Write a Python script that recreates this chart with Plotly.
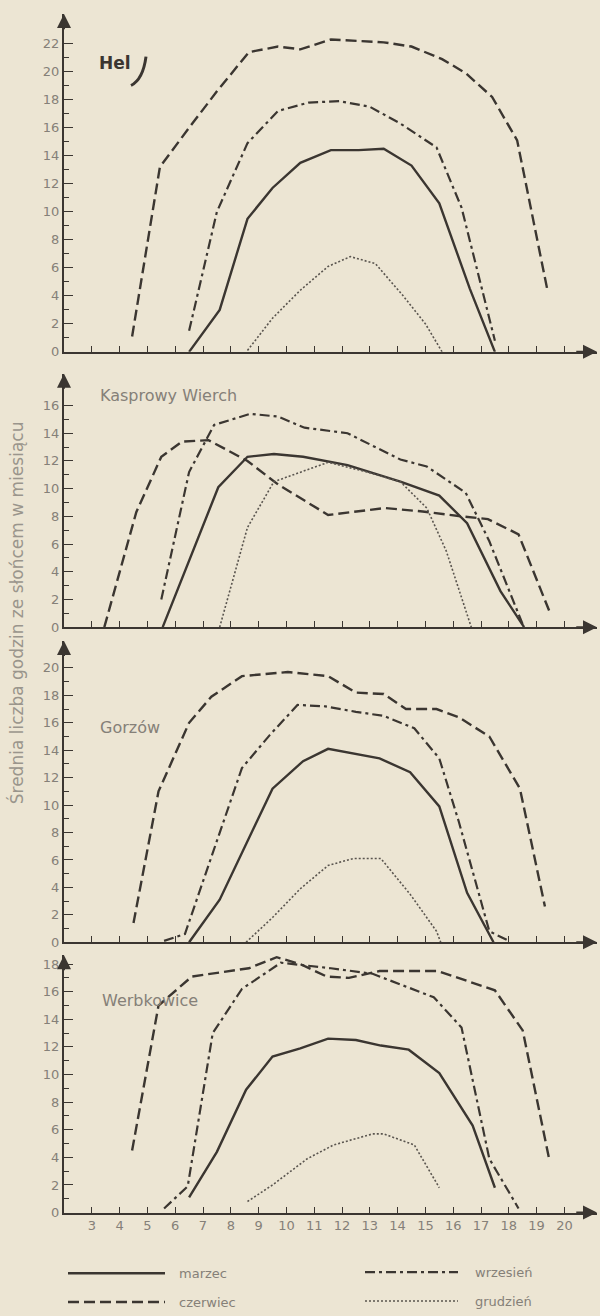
import plotly.graph_objects as go

# ---------------- data ----------------
hours_ticks = list(range(3, 21))

hel_marzec_h = [6.5, 7.6, 8.6, 9.5, 10.5, 11.6, 12.6, 13.5, 14.5, 15.5, 16.6, 17.5]
hel_marzec_v = [0, 3.0, 9.5, 11.7, 13.5, 14.4, 14.4, 14.5, 13.3, 10.6, 4.5, 0]
hel_czerwiec_h = [4.45, 5.45, 6.5, 7.5, 8.65, 9.7, 10.5, 11.6, 13.5, 14.5, 15.6, 16.45, 17.4, 18.3, 19.4]
hel_czerwiec_v = [1.1, 13.2, 16.0, 18.6, 21.4, 21.8, 21.6, 22.3, 22.1, 21.8, 20.9, 19.9, 18.2, 15.1, 4.3]
hel_wrzesien_h = [6.5, 7.5, 8.6, 9.7, 10.8, 11.9, 13.0, 14.1, 15.4, 16.3, 17.5]
hel_wrzesien_v = [1.5, 10.0, 14.9, 17.2, 17.8, 17.9, 17.5, 16.3, 14.6, 10.3, 0.8]
hel_grudzien_h = [8.6, 9.5, 10.5, 11.5, 12.3, 13.2, 14.2, 15.0, 15.6]
hel_grudzien_v = [0.1, 2.4, 4.4, 6.1, 6.8, 6.3, 4.0, 2.0, 0]

kw_marzec_h = [5.55, 6.6, 7.55, 8.6, 9.55, 10.6, 12.2, 14.1, 15.5, 16.5, 17.7, 18.55]
kw_marzec_v = [0, 5.3, 10.1, 12.3, 12.5, 12.3, 11.7, 10.5, 9.5, 7.5, 2.6, 0]
kw_czerwiec_h = [3.45, 4.6, 5.5, 6.25, 7.2, 8.6, 9.7, 11.5, 13.55, 14.9, 16.3, 17.25, 18.35, 19.45]
kw_czerwiec_v = [0, 8.3, 12.3, 13.4, 13.5, 12.0, 10.3, 8.1, 8.6, 8.35, 8.0, 7.8, 6.7, 1.2]
kw_wrzesien_h = [5.5, 6.5, 7.4, 8.7, 9.7, 10.65, 12.2, 14.1, 15.05, 16.45, 17.3, 18.5]
kw_wrzesien_v = [2.0, 11.2, 14.6, 15.4, 15.2, 14.4, 14.0, 12.1, 11.6, 9.7, 6.2, 0.2]
kw_grudzien_h = [7.6, 8.6, 9.55, 11.5, 12.9, 14.1, 15.05, 15.75, 16.65]
kw_grudzien_v = [0, 7.2, 10.5, 11.9, 11.2, 10.5, 8.6, 5.5, 0]

go_marzec_h = [6.5, 7.6, 9.5, 10.6, 11.5, 13.35, 14.45, 15.5, 16.5, 17.45]
go_marzec_v = [0, 3.1, 11.2, 13.2, 14.1, 13.4, 12.4, 9.9, 3.6, 0]
go_czerwiec_h = [4.5, 5.4, 6.5, 7.3, 8.4, 10.05, 11.5, 12.5, 13.5, 14.3, 15.4, 16.2, 17.3, 18.4, 19.3]
go_czerwiec_v = [1.4, 11.0, 16.0, 17.9, 19.4, 19.7, 19.4, 18.2, 18.1, 17.0, 17.0, 16.4, 15.0, 11.2, 2.6]
go_wrzesien_h = [5.6, 6.35, 8.4, 9.4, 10.4, 11.4, 12.5, 13.5, 14.6, 15.5, 16.2, 17.3, 18.0]
go_wrzesien_v = [0.1, 0.6, 12.7, 15.1, 17.3, 17.2, 16.8, 16.5, 15.6, 13.4, 8.8, 0.8, 0.1]
go_grudzien_h = [8.55, 9.5, 10.5, 11.5, 12.4, 13.4, 14.45, 15.4, 15.55]
go_grudzien_v = [0, 1.8, 3.9, 5.6, 6.1, 6.1, 3.5, 0.8, 0]

wb_marzec_h = [6.5, 7.5, 8.55, 9.5, 10.5, 11.5, 12.5, 13.4, 14.4, 15.5, 16.7, 17.5]
wb_marzec_v = [1.1, 4.4, 8.9, 11.3, 11.9, 12.6, 12.5, 12.1, 11.8, 10.1, 6.3, 1.8]
wb_czerwiec_h = [4.45, 5.4, 6.6, 8.65, 9.65, 10.5, 11.45, 12.25, 13.35, 15.45, 17.5, 18.5, 19.45]
wb_czerwiec_v = [4.5, 15.0, 17.1, 17.7, 18.5, 18.0, 17.1, 17.0, 17.5, 17.5, 16.1, 13.2, 3.9]
wb_wrzesien_h = [5.6, 6.45, 7.35, 8.4, 9.8, 11.6, 13.1, 15.3, 16.3, 17.3, 18.35]
wb_wrzesien_v = [0.3, 1.9, 13.0, 16.2, 18.1, 17.7, 17.3, 15.6, 13.4, 3.9, 0.3]
wb_grudzien_h = [8.6, 9.5, 10.75, 11.7, 13.1, 13.5, 14.6, 15.5]
wb_grudzien_v = [0.8, 2.0, 3.9, 4.9, 5.7, 5.7, 4.9, 1.8]

stations = ["Hel", "Kasprowy Wierch", "Gorzów", "Werbkowice"]
months = ["marzec", "czerwiec", "wrzesień", "grudzień"]

series = [
    [(hel_marzec_h, hel_marzec_v), (hel_czerwiec_h, hel_czerwiec_v),
     (hel_wrzesien_h, hel_wrzesien_v), (hel_grudzien_h, hel_grudzien_v)],
    [(kw_marzec_h, kw_marzec_v), (kw_czerwiec_h, kw_czerwiec_v),
     (kw_wrzesien_h, kw_wrzesien_v), (kw_grudzien_h, kw_grudzien_v)],
    [(go_marzec_h, go_marzec_v), (go_czerwiec_h, go_czerwiec_v),
     (go_wrzesien_h, go_wrzesien_v), (go_grudzien_h, go_grudzien_v)],
    [(wb_marzec_h, wb_marzec_v), (wb_czerwiec_h, wb_czerwiec_v),
     (wb_wrzesien_h, wb_wrzesien_v), (wb_grudzien_h, wb_grudzien_v)],
]

y_tick_max = [22, 16, 20, 18]

# ---------------- layout geometry (pixels) ----------------
W, H = 600, 1316
ML, MR = 64, 3
PW = W - ML - MR
XMIN = 2.0
PX_PER_H = 27.8
XMAX = XMIN + PW / PX_PER_H
baselines = [354, 631, 948, 1220]
topticks = [44, 408, 672, 970]     # pixel row of the highest labelled tick
tops = [14, 376, 645, 961]         # arrow tips

BG = "#ece5d3"
INK = "#3b3631"
GREY = "#858078"
FONT = "DejaVu Sans"

styles = [
    dict(color=INK, width=2.4, dash="solid"),
    dict(color=INK, width=2.4, dash="11px,5px"),
    dict(color=INK, width=2.2, dash="10px,4px,3px,4px"),
    dict(color="#5a554f", width=1.6, dash="2px,2px"),
]


def xp(px):
    return (px - ML) / PW


def yp(py):
    return 1 - py / H


fig = go.Figure()
layout = dict(
    width=W, height=H,
    paper_bgcolor=BG, plot_bgcolor="rgba(0,0,0,0)",
    margin=dict(l=ML, r=MR, t=0, b=0),
    showlegend=False,
    font=dict(family=FONT, color=GREY, size=12),
)

annotations = []
shapes = []

for i in range(4):
    n = "" if i == 0 else str(i + 1)
    xa, ya = "x" + n, "y" + n
    pxu = (baselines[i] - topticks[i]) / y_tick_max[i]
    ytop = (baselines[i] - tops[i]) / pxu
    for j in range(4):
        h, v = series[i][j]
        fig.add_trace(go.Scatter(
            x=h, y=v, mode="lines", line=styles[j], name=months[j],
            xaxis=xa, yaxis=ya, cliponaxis=False, hoverinfo="skip"))
    layout["xaxis" + n] = dict(
        domain=[0, 1], range=[XMIN, XMAX], anchor=ya,
        showgrid=False, zeroline=False, showline=True, linecolor=INK, linewidth=2,
        tickmode="array", tickvals=hours_ticks,
        ticktext=[str(t) for t in hours_ticks] if i == 3 else [""] * len(hours_ticks),
        ticks="inside", ticklen=6, tickwidth=1.3, tickcolor=INK,
        tickfont=dict(size=13, color=GREY, family=FONT),
    )
    layout["yaxis" + n] = dict(
        domain=[yp(baselines[i]), yp(tops[i])], range=[0, ytop], anchor=xa,
        showgrid=False, zeroline=False, showline=True, linecolor=INK, linewidth=2,
        tickmode="array", tickvals=list(range(0, y_tick_max[i] + 1, 2)),
        ticks="inside", ticklen=9, tickwidth=1.3, tickcolor=INK,
        minor=dict(tickmode="array", tickvals=list(range(1, y_tick_max[i] + 1, 2)),
                   ticks="inside", ticklen=5, tickwidth=1.1, tickcolor=INK),
        tickfont=dict(size=13, color=GREY, family=FONT),
    )
    # arrows
    annotations.append(dict(xref=xa, yref=ya, axref=xa, ayref=ya,
                            x=XMIN, y=ytop, ax=XMIN, ay=ytop - 1.2, text="",
                            showarrow=True, arrowhead=2, arrowsize=1.4,
                            arrowwidth=2, arrowcolor=INK))
    annotations.append(dict(xref=xa, yref=ya, axref=xa, ayref=ya,
                            x=XMAX, y=0, ax=XMAX - 0.8, ay=0, text="",
                            showarrow=True, arrowhead=2, arrowsize=1.4,
                            arrowwidth=2, arrowcolor=INK))

# station labels
label_pos = [(97, 63), (98, 398), (98, 732), (100, 1007)]
for i, (px, py) in enumerate(label_pos):
    annotations.append(dict(
        xref="paper", yref="paper", x=xp(px), y=yp(py), xanchor="left", yanchor="middle",
        text=("<b>%s</b>" % stations[i]) if i == 0 else stations[i], showarrow=False,
        font=dict(size=17 if i == 0 else 16, color=INK if i == 0 else GREY, family=FONT)))

# hand-drawn stroke after "Hel"
shapes.append(dict(
    type="path", xref="paper", yref="paper",
    path="M %f %f Q %f %f %f %f" % (xp(146), yp(57), xp(143), yp(80), xp(131), yp(86)),
    line=dict(color=INK, width=3)))

# y-axis title
annotations.append(dict(
    xref="paper", yref="paper", x=xp(16), y=yp(617), xanchor="center", yanchor="middle",
    textangle=-90, showarrow=False,
    text="Średnia liczba godzin ze słońcem w miesiącu",
    font=dict(size=17, color="#9a958c", family=FONT)))

# legend (drawn manually)
leg = [(68, 165, 1281, 177, 0), (365, 458, 1280, 473, 2),
       (68, 165, 1310, 177, 1), (365, 458, 1309, 473, 3)]
for x0, x1, y0, tx, k in leg:
    shapes.append(dict(type="line", xref="paper", yref="paper",
                       x0=xp(x0), x1=xp(x1), y0=yp(y0), y1=yp(y0),
                       line=dict(color=styles[k]["color"], width=styles[k]["width"],
                                 dash=styles[k]["dash"])))
    annotations.append(dict(xref="paper", yref="paper", x=xp(tx), y=yp(y0),
                            xanchor="left", yanchor="middle", text=months[k],
                            showarrow=False,
                            font=dict(size=13, color=GREY, family=FONT)))

layout["annotations"] = annotations
layout["shapes"] = shapes
fig.update_layout(**layout)
fig.write_html(
    "out.html",
    config={"displayModeBar": False},
    post_script="document.body.style.margin='0';document.body.style.background='%s';" % BG,
)
